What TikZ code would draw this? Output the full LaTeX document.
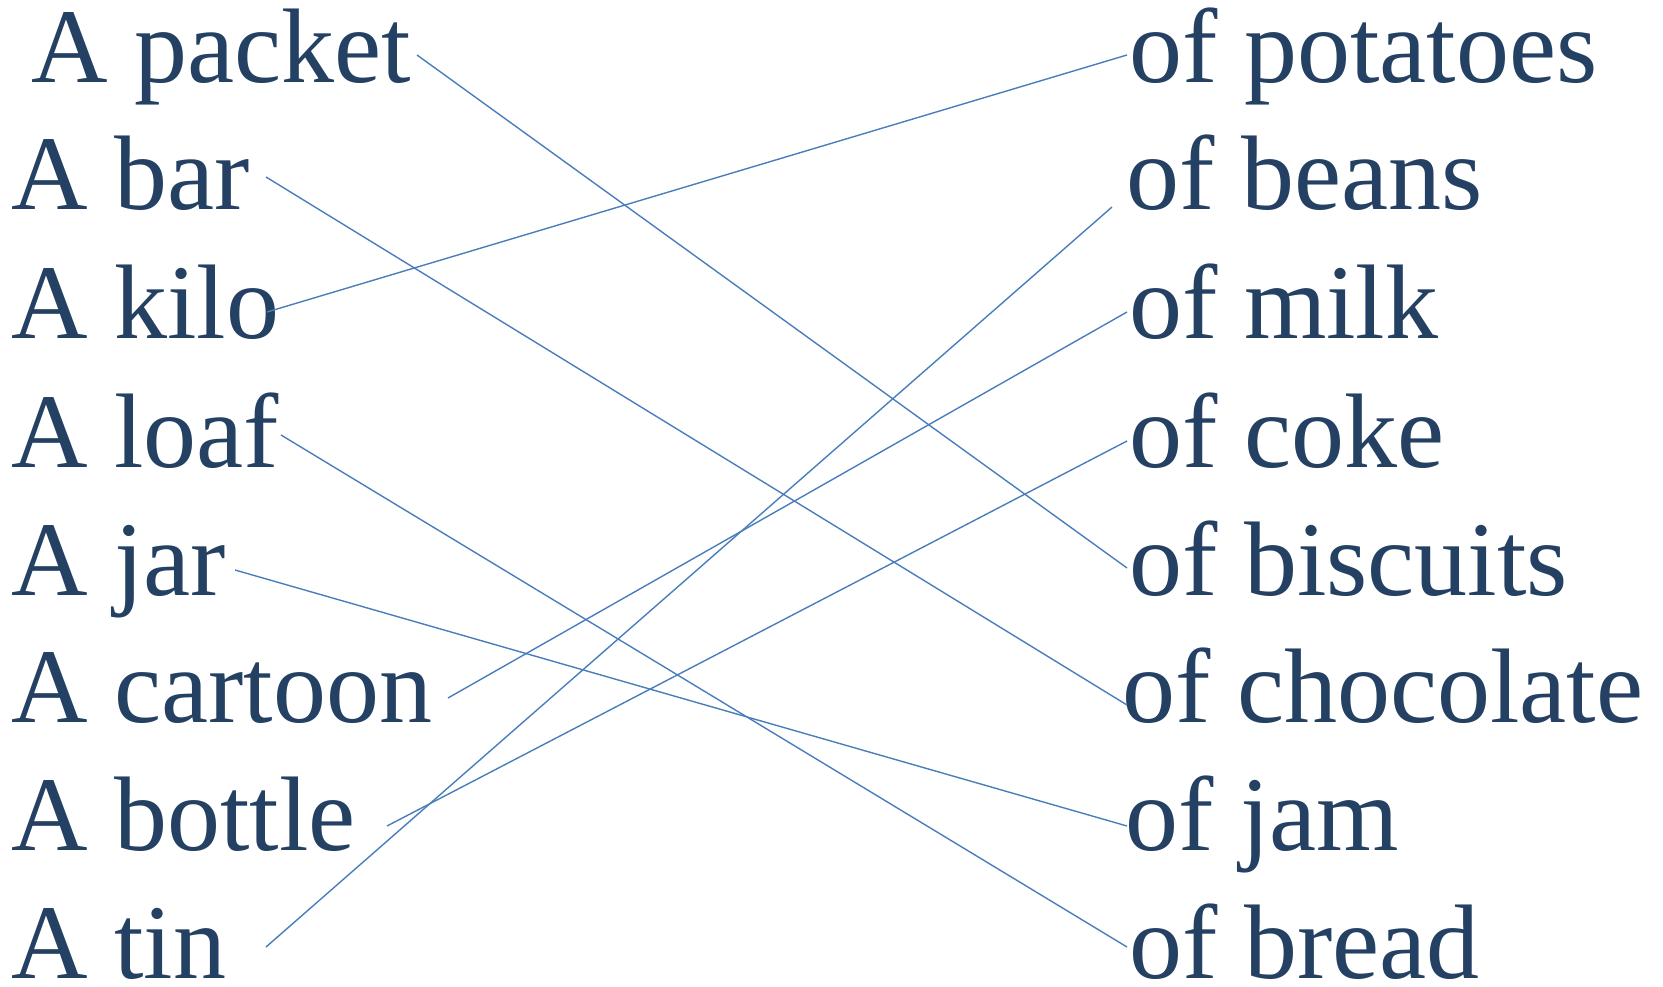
\documentclass[tikz,border=0pt]{standalone}
\usepackage{fontspec}
\setmainfont{Liberation Serif}
\definecolor{txtblue}{RGB}{36,64,98}
\definecolor{lineblue}{RGB}{74,126,187}
\begin{document}
\begin{tikzpicture}[x=1pt,y=-1pt,
  word/.style={anchor=base west,inner sep=0pt,text=txtblue,font=\fontsize{106}{106}\selectfont},
  link/.style={draw=lineblue,line width=1.4pt}]
\path[use as bounding box] (0,0) rectangle (1663,987);
% left column
\node[word] (packet) at (31,83) {A packet};
\node[word] (bar) at (11,210) {A bar};
\node[word] (kilo) at (11,338) {A kilo};
\node[word] (loaf) at (11,467) {A loaf};
\node[word] (jar) at (11,595) {A jar};
\node[word] (cartoon) at (11,722) {A cartoon};
\node[word] (bottle) at (11,850) {A bottle};
\node[word] (tin) at (11,978) {A tin};
% right column
\node[word] (potatoes) at (1129,83) {of potatoes};
\node[word] (beans) at (1126,210) {of beans};
\node[word] (milk) at (1129,338) {of milk};
\node[word] (coke) at (1129,467) {of coke};
\node[word] (biscuits) at (1129,595) {of biscuits};
\node[word] (chocolate) at (1122,722) {of chocolate};
\node[word] (jam) at (1125,850) {of jam};
\node[word] (bread) at (1129,978) {of bread};
% connector ends
\coordinate (packetE) at (417,55);
\coordinate (barE) at (266,177);
\coordinate (kiloE) at (267,312);
\coordinate (loafE) at (281,435);
\coordinate (jarE) at (235,570);
\coordinate (cartoonE) at (448,698);
\coordinate (bottleE) at (387,826);
\coordinate (tinE) at (266,947);
\coordinate (potatoesW) at (1127,55);
\coordinate (beansW) at (1112,207);
\coordinate (milkW) at (1127,312);
\coordinate (cokeW) at (1127,441);
\coordinate (biscuitsW) at (1127,568);
\coordinate (chocolateW) at (1127,705);
\coordinate (jamW) at (1127,826);
\coordinate (breadW) at (1127,947);
% connectors
\draw[link] (packetE) -- (biscuitsW);
\draw[link] (barE) -- (chocolateW);
\draw[link] (kiloE) -- (potatoesW);
\draw[link] (loafE) -- (breadW);
\draw[link] (jarE) -- (jamW);
\draw[link] (cartoonE) -- (milkW);
\draw[link] (bottleE) -- (cokeW);
\draw[link] (tinE) -- (beansW);
\end{tikzpicture}
\end{document}
